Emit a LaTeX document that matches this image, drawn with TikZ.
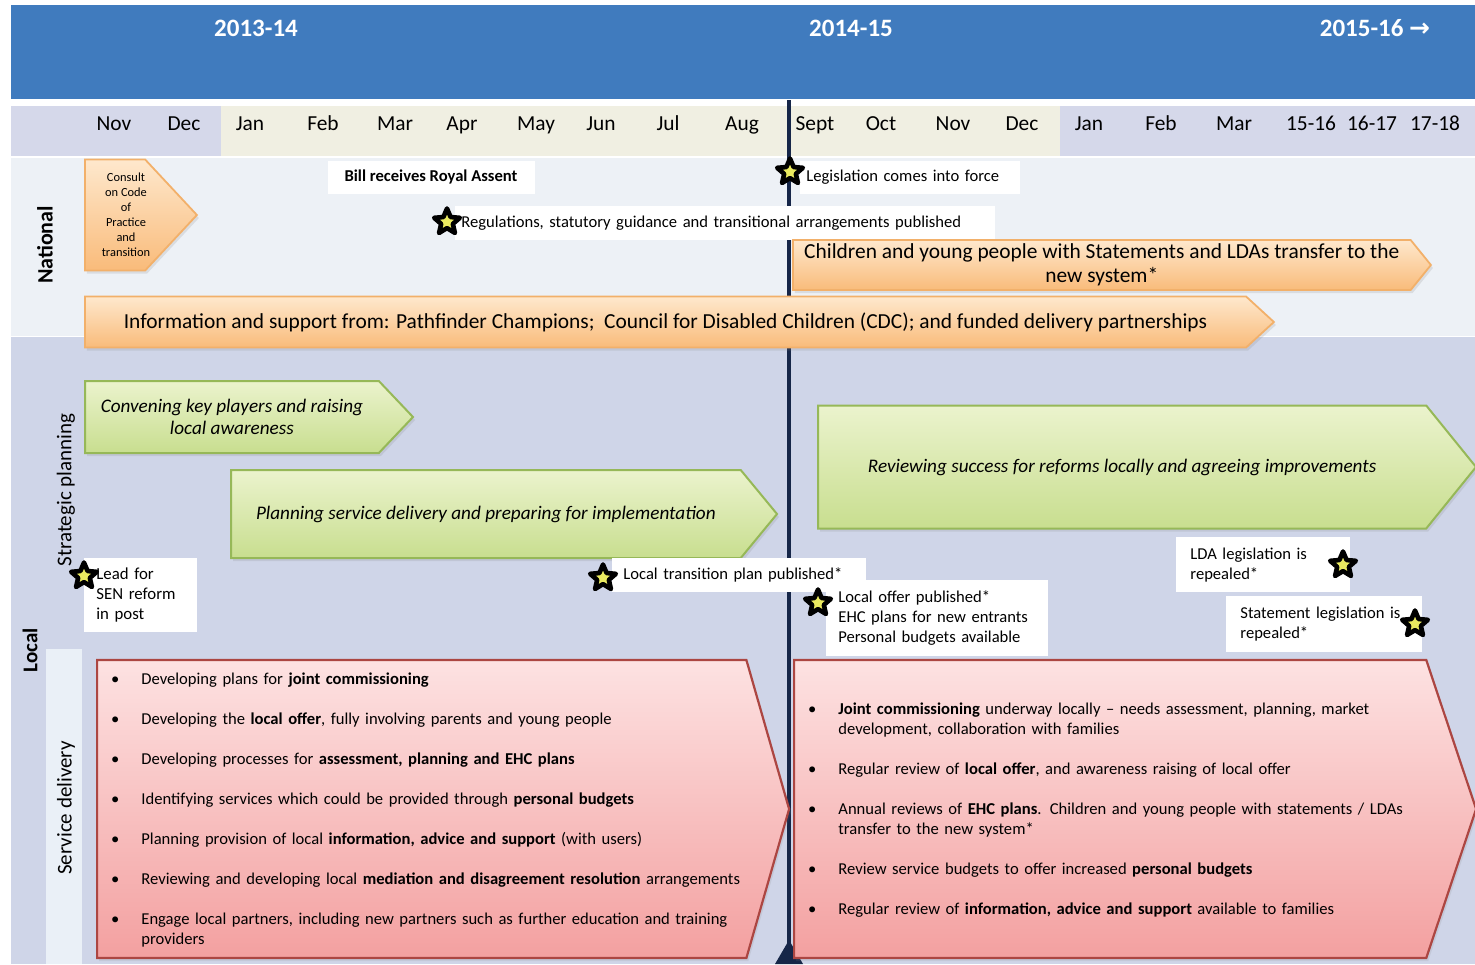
\documentclass[tikz,border=0pt]{standalone}
\usepackage{fontspec}
\setmainfont{Carlito}
\newfontfamily\arrowfont{DejaVu Sans}
\usetikzlibrary{shapes.geometric, shapes.symbols, shadows}

\definecolor{hdrblue}{RGB}{64,123,190}
\definecolor{rowlav}{RGB}{213,216,234}
\definecolor{rowcream}{RGB}{240,239,226}
\definecolor{natband}{RGB}{237,241,246}
\definecolor{locband}{RGB}{207,213,232}
\definecolor{stripblue}{RGB}{234,240,247}
\definecolor{navyline}{RGB}{22,38,72}
\definecolor{starfill}{RGB}{234,234,96}
\definecolor{orangetop}{RGB}{254,232,205}
\definecolor{orangebot}{RGB}{249,187,122}
\definecolor{orangeedge}{RGB}{242,176,106}
\definecolor{greentop}{RGB}{235,243,205}
\definecolor{greenbot}{RGB}{200,222,143}
\definecolor{greenedge}{RGB}{150,184,88}
\definecolor{redtop}{RGB}{253,226,226}
\definecolor{redbot}{RGB}{243,160,160}
\definecolor{rededge}{RGB}{172,70,66}

\newcommand{\setfs}[2]{\fontsize{#1}{#2}\selectfont}
\newenvironment{redlist}{\begin{list}{\textbullet}{%
    \setlength{\leftmargin}{20.5pt}\setlength{\labelsep}{11pt}%
    \setlength{\labelwidth}{9.5pt}\setlength{\itemsep}{10pt}%
    \setlength{\parsep}{0pt}\setlength{\topsep}{0pt}\setlength{\partopsep}{0pt}}}%
  {\end{list}}

\tikzset{
    arrow_orange/.style={
        signal, signal to=east, draw=orangeedge, line width=0.9pt,
        top color=orangetop, bottom color=orangebot,
        inner sep=0pt, align=center, font=\setfs{10.7}{12},
        drop shadow={opacity=0.18, shadow xshift=1pt, shadow yshift=-1.5pt}
    },
    arrow_green/.style={
        signal, signal to=east, draw=greenedge, line width=1pt,
        top color=greentop, bottom color=greenbot,
        inner sep=0pt, align=center, font=\setfs{9.6}{11}\itshape,
        drop shadow={opacity=0.18, shadow xshift=1pt, shadow yshift=-1.5pt}
    },
    arrow_red/.style={
        signal, signal to=east, draw=rededge, line width=1.1pt,
        top color=redtop, bottom color=redbot, inner sep=0pt,
        drop shadow={opacity=0.15, shadow xshift=1pt, shadow yshift=-1.5pt}
    },
    lbl_white/.style={
        fill=white, inner xsep=3pt, inner ysep=0pt, align=left,
        font=\setfs{8.3}{10}
    },
    red_text/.style={
        anchor=north west, inner sep=0pt, text width=340pt, align=left,
        font=\setfs{8.3}{10}
    },
    star_mark/.style={
        star, star points=5, star point ratio=2.2, draw=black, line width=2.3pt,
        line join=round, fill=starfill, inner sep=0pt, minimum size=13.5pt
    },
    month/.style={anchor=base, font=\setfs{10.7}{12}},
    year/.style={font=\setfs{12.5}{14}\bfseries, text=white},
    side_lbl/.style={rotate=90, font=\setfs{10.5}{12}}
}

\begin{document}
\begin{tikzpicture}[x=0.5pt, y=-0.5pt]
    \useasboundingbox (0,0) rectangle (1475,964);
    \fill[white] (0,0) rectangle (1475,964);

    % header and month row
    \fill[hdrblue] (11,5) rectangle (1475,99);
    \fill[rowlav] (11,106) rectangle (221,156);
    \fill[rowcream] (221,106) rectangle (1060,156);
    \fill[rowlav] (1060,106) rectangle (1475,156);

    % bands
    \fill[natband] (11,158) rectangle (1475,336);
    \fill[locband] (11,337) rectangle (1475,964);
    \fill[stripblue] (46,649) rectangle (82,964);

    % reform start line
    \draw[navyline, line width=2pt] (789,100) -- (789,964);
    \fill[navyline] (775,964) -- (789,940) -- (803,964) -- cycle;

    \node[year] (yr_a) at (256,28) {2013-14};
    \node[year] (yr_b) at (851,28) {2014-15};
    \node[year] (yr_c) at (1375,28) {2015-16 {\arrowfont\bfseries →}};

    \node[month] (m_nov1) at (114,130) {Nov};
    \node[month] (m_dec1) at (184,130) {Dec};
    \node[month] (m_jan1) at (250,130) {Jan};
    \node[month] (m_feb1) at (323,130) {Feb};
    \node[month] (m_mar1) at (395,130) {Mar};
    \node[month] (m_apr1) at (462,130) {Apr};
    \node[month] (m_may1) at (536,130) {May};
    \node[month] (m_jun1) at (601,130) {Jun};
    \node[month] (m_jul1) at (668,130) {Jul};
    \node[month] (m_aug1) at (742,130) {Aug};
    \node[month] (m_sep1) at (815,130) {Sept};
    \node[month] (m_oct1) at (881,130) {Oct};
    \node[month] (m_nov2) at (953,130) {Nov};
    \node[month] (m_dec2) at (1022,130) {Dec};
    \node[month] (m_jan2) at (1089,130) {Jan};
    \node[month] (m_feb2) at (1161,130) {Feb};
    \node[month] (m_mar2) at (1234,130) {Mar};
    \node[month] (y_1516) at (1311,130) {15-16};
    \node[month] (y_1617) at (1372,130) {16-17};
    \node[month] (y_1718) at (1435,130) {17-18};

    % side labels
    \node[side_lbl, font=\setfs{11}{12}\bfseries] (lbl_national) at (45,245) {National};
    \node[side_lbl, font=\setfs{10.5}{12}\bfseries] (lbl_local) at (30,650) {Local};
    \node[side_lbl] (lbl_strategic) at (66,490) {Strategic planning};
    \node[side_lbl] (lbl_service) at (66,808) {Service delivery};

    % national
    \node[arrow_orange, anchor=west, minimum width=56pt, minimum height=55.5pt,
          signal pointer angle=94] (consult) at (84,215) {};
    \node[align=center, inner sep=0pt, font=\setfs{6.2}{7.5}] (consult_txt) at (126,215)
          {Consult\\on Code\\of\\Practice\\and\\transition};
    \node[lbl_white, align=center, minimum width=103.5pt, minimum height=16.5pt,
          font=\setfs{8.3}{10}\bfseries] (royal) at (431,177) {Bill receives Royal Assent};
    \node[lbl_white, anchor=west, text width=104pt, minimum height=16.5pt] (legis)
          at (800,177) {Legislation comes into force};
    \node[lbl_white, anchor=west, text width=264pt, minimum height=17pt] (regs)
          at (455,223) {Regulations, statutory guidance and transitional arrangements published};
    \node[arrow_orange, anchor=west, minimum width=319pt, minimum height=25pt,
          signal pointer angle=102] (transfer) at (792,265)
          {Children and young people with Statements and LDAs transfer to the\\new system*};
    \node[arrow_orange, anchor=west, minimum width=594.5pt, minimum height=25.5pt,
          signal pointer angle=85] (info) at (84,322)
          {Information and support from: Pathfinder Champions;\ \ Council for Disabled Children (CDC); and funded delivery partnerships};

    % local: strategic planning
    \node[arrow_green, anchor=west, minimum width=164pt, minimum height=36pt,
          signal pointer angle=93] (convene) at (84,417)
          {Convening key players and raising\\local awareness};
    \node[arrow_green, anchor=west, minimum width=273pt, minimum height=44pt,
          signal pointer angle=101] (planning) at (230,514)
          {Planning service delivery and preparing for implementation};
    \node[arrow_green, anchor=west, minimum width=329pt, minimum height=61.5pt,
          signal pointer angle=102] (reviewing) at (817,467)
          {Reviewing success for reforms locally and agreeing improvements};

    \node[lbl_white, anchor=north west, inner xsep=6pt, text width=44.5pt,
          minimum height=37pt, font=\setfs{8.4}{10}] (lead) at (84,558)
          {Lead for\\SEN reform\\in post};
    \node[lbl_white, anchor=west, inner xsep=5.5pt, text width=116pt,
          minimum height=17pt] (ltp) at (612,575) {Local transition plan published*};
    \node[lbl_white, anchor=north west, inner xsep=6pt, text width=99pt,
          minimum height=38pt] (offer) at (826,580)
          {Local offer published*\\EHC plans for new entrants\\Personal budgets available};
    \node[lbl_white, anchor=north west, inner xsep=7pt, text width=73pt,
          minimum height=27.5pt] (lda) at (1176,537) {LDA legislation is\\repealed*};
    \node[lbl_white, anchor=north west, inner xsep=7pt, text width=84pt,
          minimum height=28pt] (stmt) at (1226,596) {Statement legislation is\\repealed*};

    % local: service delivery
    \node[arrow_red, anchor=west, minimum width=346pt, minimum height=149pt,
          signal pointer angle=148] (red_left) at (96,809) {};
    \node[arrow_red, anchor=west, minimum width=341pt, minimum height=149pt,
          signal pointer angle=143] (red_right) at (793,809) {};

    \node[red_text] (red_left_txt) at (100,664) {\begin{redlist}
        \item Developing plans for \textbf{joint commissioning}
        \item Developing the \textbf{local offer}, fully involving parents and young people
        \item Developing processes for \textbf{assessment, planning and EHC plans}
        \item Identifying services which could be provided through \textbf{personal budgets}
        \item Planning provision of local \textbf{information, advice and support} (with users)
        \item Reviewing and developing local \textbf{mediation and disagreement resolution} arrangements
        \item Engage local partners, including new partners such as further education and training\newline providers
    \end{redlist}};
    \node[red_text] (red_right_txt) at (797,694) {\begin{redlist}
        \item \textbf{Joint commissioning} underway locally -- needs assessment, planning, market\newline development, collaboration with families
        \item Regular review of \textbf{local offer}, and awareness raising of local offer
        \item Annual reviews of \textbf{EHC plans}. Children and young people with statements / LDAs\newline transfer to the new system*
        \item Review service budgets to offer increased \textbf{personal budgets}
        \item Regular review of \textbf{information, advice and support} available to families
    \end{redlist}};

    % milestones
    \node[star_mark] (star_force) at (790,172) {};
    \node[star_mark] (star_regs) at (447,222) {};
    \node[star_mark] (star_lead) at (84,576) {};
    \node[star_mark] (star_ltp) at (603,578) {};
    \node[star_mark] (star_offer) at (818,603) {};
    \node[star_mark] (star_lda) at (1343,565) {};
    \node[star_mark] (star_stmt) at (1415,624) {};

\end{tikzpicture}
\end{document}
